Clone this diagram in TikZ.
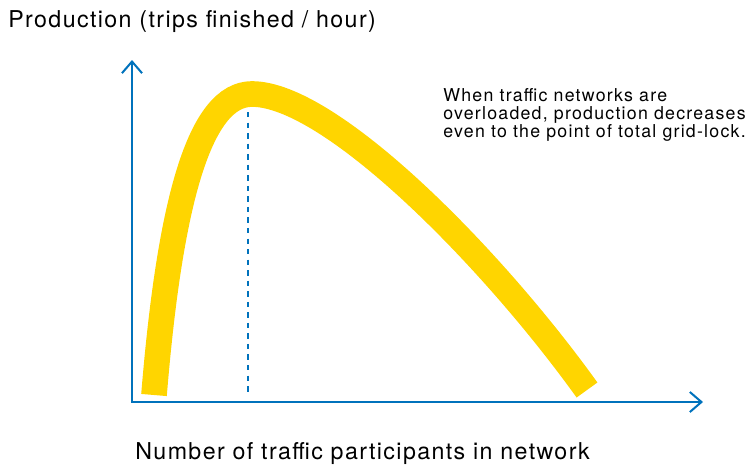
\documentclass[tikz,border=0pt]{standalone}
\usepackage{fontspec}
\setmainfont{TeX Gyre Heros}
\newfontfamily\labelfont[LetterSpace=6]{TeX Gyre Heros}
\newfontfamily\notefont[LetterSpace=7]{TeX Gyre Heros}
\usetikzlibrary{arrows.meta}
\definecolor{axisblue}{RGB}{0,114,188}
\definecolor{flowyellow}{RGB}{255,213,0}

\begin{document}
\begin{tikzpicture}[x=0.02cm, y=-0.02cm]
	\def\xorig{132}
	\def\yorig{402}
	\def\xpeak{248}

	\tikzset{
		axis/.style={<->, >={Straight Barb[length=6.6pt,width=11.4pt]}, draw=axisblue, line width=1.15pt, line join=miter},
		curve/.style={draw=flowyellow, line width=14.6pt},
		guide/.style={draw=axisblue, line width=1.2pt, dash pattern=on 3.1pt off 2.9pt},
		axislabel/.style={font=\labelfont\fontsize{13.2}{15}\selectfont, inner sep=0pt, anchor=base west},
		note/.style={font=\notefont\fontsize{10.1}{10.4}\selectfont, inner sep=0pt, align=left, anchor=north west}
	}

	\useasboundingbox (0,0) rectangle (751,467);

	% axes
	\coordinate (O)    at (\xorig,\yorig);
	\coordinate (ytop) at (\xorig,60);
	\coordinate (xend) at (703,\yorig);
	\draw[axis] (ytop) -- (O) -- (xend);

	% production curve
	\coordinate (start) at (154,395);
	\coordinate (peak)  at (252,94);
	\coordinate (stop)  at (587,390);
	\draw[curve] (start) .. controls (170,200) and (200,94) .. (peak)
		.. controls (330,94) and (490,255) .. (stop);

	% optimum marker
	\coordinate (gtop) at (\xpeak,112);
	\coordinate (gbot) at (\xpeak,395);
	\draw[guide] (gtop) -- (gbot);

	% labels
	\node[axislabel] (ylabel) at (8,27) {Production (trips finished / hour)};
	\node[axislabel] (xlabel) at (135,459) {Number of traffic participants in network};
	\node[note] (note) at (443,88) {When traffic networks are\\overloaded, production decreases\\even to the point of total grid-lock.};
\end{tikzpicture}
\end{document}
